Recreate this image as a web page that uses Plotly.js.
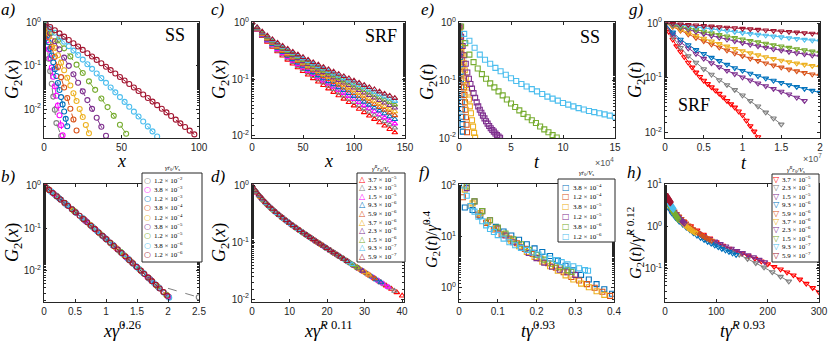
<!DOCTYPE html>
<html>
<head>
<meta charset="utf-8">
<script src="https://cdn.plot.ly/plotly-3.0.1.min.js"></script>
<style>
  body { margin: 0; background: #fff; }
  #chart { width: 831px; height: 342px; }
</style>
</head>
<body>
<div id="chart"></div>
<script>
// ---------------- data ----------------

// SS: shear rates (legend of b/e/f) and G2(x) profiles of panel a
var ssRates = [1.2e-2, 3.8e-3, 1.2e-3, 3.8e-4, 1.2e-4, 3.8e-5, 1.2e-5, 3.8e-6, 1.2e-6];

var aXGray = [1, 2, 3, 4, 5, 6, 7, 8, 11.1];
var aGGray = [0.534, 0.282, 0.147, 0.0758, 0.0386, 0.0195, 0.0097, 0.00476, 0.0024];
var aXMagenta = [1, 2, 3, 4, 5, 6, 7, 8, 9, 10, 11, 12];
var aGMagenta = [0.629, 0.393, 0.243, 0.150, 0.0919, 0.0561, 0.0339, 0.0204, 0.0122, 0.00721, 0.00425, 0.00249];
var aXBlue = [1, 2, 3, 4, 5, 6, 7, 8, 9, 10, 11, 12, 13, 14, 15];
var aGBlue = [0.710, 0.502, 0.354, 0.248, 0.174, 0.121, 0.0842, 0.0583, 0.0402, 0.0277, 0.0190, 0.0129, 0.0088, 0.00597, 0.00403];
var aXOrange = [1, 3, 5, 7, 9, 11, 13, 15, 17, 19, 21];
var aGOrange = [0.776, 0.464, 0.275, 0.162, 0.0948, 0.0550, 0.0316, 0.0181, 0.0102, 0.00575, 0.00321];
var aXYellow = [1, 3, 5, 7, 9, 11, 13, 15, 17, 19, 21, 23, 25, 27, 29];
var aGYellow = [0.829, 0.567, 0.386, 0.262, 0.177, 0.119, 0.0797, 0.0532, 0.0353, 0.0234, 0.0154, 0.0101, 0.00659, 0.00429, 0.00277];
var aXPurple = [1, 4, 7, 10, 13, 16, 19, 22, 25, 28, 31, 34, 37, 40];
var aGPurple = [0.870, 0.571, 0.373, 0.242, 0.156, 0.1004, 0.0642, 0.0408, 0.0258, 0.0162, 0.01017, 0.00633, 0.00392, 0.00242];
var aXGreen = [1, 5, 9, 13, 17, 21, 25, 29, 33, 37, 41, 45, 49, 53];
var aGGreen = [0.902, 0.595, 0.390, 0.255, 0.166, 0.107, 0.0688, 0.0440, 0.0280, 0.0177, 0.01117, 0.00700, 0.00436, 0.00271];
var aXCyan = [1, 4, 7, 10, 13, 16, 19, 22, 25, 28, 31, 34, 37, 40, 43, 46, 49, 52, 55, 58, 61, 64, 67, 70, 73];
var aGCyan = [0.926, 0.735, 0.583, 0.461, 0.364, 0.287, 0.226, 0.178, 0.140, 0.1094, 0.0856, 0.0669, 0.0522, 0.0406, 0.0316, 0.0245, 0.0190, 0.01472, 0.01137, 0.00877, 0.00675, 0.00519, 0.00399, 0.00306, 0.00234];
var aXDarkRed = [1, 4, 7, 10, 13, 16, 19, 22, 25, 28, 31, 34, 37, 40, 43, 46, 49, 52, 55, 58, 61, 64, 67, 70, 73, 76, 79, 82, 85, 88, 91, 94, 97];
var aGDarkRed = [0.945, 0.797, 0.671, 0.565, 0.475, 0.399, 0.335, 0.281, 0.235, 0.197, 0.165, 0.1378, 0.1151, 0.0960, 0.0800, 0.0667, 0.0555, 0.0461, 0.0383, 0.0318, 0.0264, 0.0219, 0.0181, 0.01496, 0.01237, 0.01021, 0.00842, 0.00694, 0.00572, 0.00470, 0.00387, 0.00318, 0.00261];

// SRF: rates (legend of d/h) and G2(x) of panel c
var srfRates = [3.7e-5, 2.3e-5, 1.5e-5, 9.3e-6, 5.9e-6, 3.7e-6, 2.3e-6, 1.5e-6, 9.3e-7, 5.9e-7];
var cX = [0, 5, 10, 15, 20, 25, 30, 35, 40, 45, 50, 55, 60, 65, 70, 75, 80, 85, 90, 95, 100, 105, 110, 115, 120, 125, 130, 135, 140];
var cGRed = [1, 0.743, 0.575, 0.458, 0.373, 0.3095, 0.260, 0.2203, 0.188, 0.1614, 0.139, 0.1202, 0.1041, 0.0904, 0.0786, 0.0684, 0.0595, 0.0518, 0.0451, 0.0393, 0.0343, 0.0299, 0.0261, 0.0227, 0.0198, 0.0173, 0.0151, 0.01316, 0.01149];
var cGGray = [1, 0.754, 0.589, 0.4735, 0.389, 0.324, 0.274, 0.2333, 0.200, 0.1729, 0.150, 0.1303, 0.1136, 0.0992, 0.0868, 0.0760, 0.0666, 0.0583, 0.0512, 0.0449, 0.0394, 0.0346, 0.0304, 0.0267, 0.0234, 0.0206, 0.0181, 0.01588, 0.01394];
var cGMagenta = [1, 0.763, 0.602, 0.4875, 0.403, 0.3376, 0.287, 0.2455, 0.212, 0.1837, 0.160, 0.1399, 0.1226, 0.1076, 0.0946, 0.0833, 0.0734, 0.0647, 0.0571, 0.0504, 0.0445, 0.0393, 0.0347, 0.0306, 0.0271, 0.0239, 0.0211, 0.0187, 0.0165];
var cGBlue = [1, 0.773, 0.616, 0.5027, 0.418, 0.3527, 0.301, 0.2593, 0.225, 0.196, 0.1717, 0.1509, 0.1328, 0.1173, 0.1037, 0.0918, 0.0814, 0.0722, 0.0640, 0.0568, 0.0505, 0.0449, 0.0399, 0.0354, 0.0315, 0.0280, 0.0249, 0.0221, 0.0197];
var cGOrange = [1, 0.782, 0.629, 0.517, 0.433, 0.367, 0.315, 0.2725, 0.2375, 0.208, 0.1831, 0.1616, 0.1431, 0.127, 0.1129, 0.1004, 0.0894, 0.0797, 0.0712, 0.0635, 0.0567, 0.0507, 0.0453, 0.0405, 0.0362, 0.0323, 0.0289, 0.0258, 0.0231];
var cGYellow = [1, 0.791, 0.642, 0.5316, 0.448, 0.3823, 0.330, 0.2866, 0.2508, 0.2208, 0.1951, 0.173, 0.1539, 0.1372, 0.1225, 0.1096, 0.0981, 0.0879, 0.0788, 0.0707, 0.0635, 0.0571, 0.0512, 0.046, 0.0414, 0.0372, 0.0334, 0.0301, 0.0270];
var cGPurple = [1, 0.800, 0.655, 0.5468, 0.463, 0.3975, 0.3445, 0.3008, 0.2646, 0.2339, 0.2077, 0.185, 0.1653, 0.148, 0.1328, 0.1193, 0.1073, 0.0966, 0.0871, 0.0785, 0.0709, 0.064, 0.0578, 0.0522, 0.0472, 0.0426, 0.0385, 0.0348, 0.0315];
var cGGreen = [1, 0.808, 0.667, 0.560, 0.477, 0.4115, 0.358, 0.314, 0.2772, 0.246, 0.2193, 0.196, 0.1759, 0.1581, 0.1424, 0.1285, 0.1161, 0.105, 0.0949, 0.086, 0.0779, 0.0706, 0.0641, 0.0581, 0.0528, 0.0479, 0.0435, 0.0395, 0.0358];
var cGCyan = [1, 0.816, 0.680, 0.575, 0.493, 0.427, 0.373, 0.329, 0.2916, 0.2598, 0.2325, 0.2088, 0.1879, 0.1697, 0.1535, 0.139, 0.1261, 0.1146, 0.1041, 0.0947, 0.0862, 0.0785, 0.0715, 0.0652, 0.0594, 0.0542, 0.0494, 0.0451, 0.0412];
var cGDarkRed = [1, 0.824, 0.691, 0.5885, 0.507, 0.4416, 0.388, 0.343, 0.305, 0.273, 0.2452, 0.221, 0.1998, 0.1809, 0.1642, 0.1493, 0.1360, 0.124, 0.1131, 0.1033, 0.0944, 0.0863, 0.0790, 0.0723, 0.0662, 0.0606, 0.0555, 0.0509, 0.0466];

// SS: G2(t) of panel e, t in units of 1e4
var eTBlue = [0.0125, 0.0375, 0.0625, 0.0875, 0.1125, 0.1375, 0.1625, 0.1875, 0.2125, 0.2375, 0.2625, 0.2875, 0.3125, 0.3375, 0.3625];
var eGBlue = [0.832, 0.631, 0.468, 0.347, 0.257, 0.191, 0.141, 0.1047, 0.0776, 0.0575, 0.0427, 0.0316, 0.0234, 0.0174, 0.0129];
var eTOrange = [0.025, 0.075, 0.125, 0.175, 0.225, 0.275, 0.325, 0.375, 0.425, 0.475, 0.525, 0.575, 0.625, 0.675, 0.725, 0.775];
var eGOrange = [0.832, 0.631, 0.490, 0.380, 0.295, 0.229, 0.174, 0.132, 0.100, 0.0759, 0.0562, 0.0417, 0.0309, 0.0229, 0.0170, 0.0126];
var eTYellow = [0.05, 0.15, 0.25, 0.35, 0.45, 0.55, 0.65, 0.75, 0.85, 0.95, 1.05, 1.15, 1.25, 1.35, 1.45, 1.55];
var eGYellow = [0.794, 0.537, 0.380, 0.275, 0.204, 0.151, 0.112, 0.0832, 0.0617, 0.0468, 0.0355, 0.0269, 0.0204, 0.0158, 0.0123, 0.0102];
var eTPurple = [0.05, 0.2, 0.35, 0.5, 0.65, 0.8, 0.95, 1.1, 1.25, 1.4, 1.55, 1.7, 1.85, 2.0, 2.15, 2.3, 2.45, 2.6, 2.75, 2.9, 3.05, 3.2, 3.35, 3.5, 3.65, 3.8, 3.95];
var eGPurple = [0.871, 0.575, 0.398, 0.275, 0.195, 0.138, 0.1072, 0.0871, 0.0724, 0.0603, 0.0501, 0.0417, 0.0355, 0.0309, 0.0275, 0.0245, 0.0219, 0.0195, 0.0178, 0.0162, 0.0148, 0.0138, 0.0129, 0.0120, 0.0112, 0.0106, 0.0101];
var eTGreen = [0.2, 0.6, 1.0, 1.4, 1.8, 2.2, 2.6, 3.0, 3.4, 3.8, 4.2, 4.6, 5.0, 5.4, 5.8, 6.2, 6.6, 7.0, 7.4, 7.8, 8.2, 8.6, 9.0, 9.4];
var eGGreen = [0.871, 0.447, 0.282, 0.209, 0.162, 0.1288, 0.1072, 0.0891, 0.0759, 0.0646, 0.0550, 0.0468, 0.0398, 0.0347, 0.0302, 0.0263, 0.0229, 0.0204, 0.0182, 0.01585, 0.01413, 0.01259, 0.01122, 0.0102];
var eTCyan = [0.5, 1.0, 1.5, 2.0, 2.5, 3.0, 3.5, 4.0, 4.5, 5.0, 5.5, 6.0, 6.5, 7.0, 7.5, 8.0, 8.5, 9.0, 9.5, 10.0, 10.5, 11.0, 11.5, 12.0, 12.5, 13.0, 13.5, 14.0, 14.5, 15.0];
var eGCyan = [0.646, 0.490, 0.372, 0.282, 0.229, 0.195, 0.166, 0.1445, 0.126, 0.1096, 0.0977, 0.0871, 0.0785, 0.0708, 0.0646, 0.0582, 0.0525, 0.0484, 0.0447, 0.0407, 0.0380, 0.0355, 0.0331, 0.0313, 0.0295, 0.0282, 0.0269, 0.0257, 0.0245, 0.0234];

// SS collapse of panel f
var fXBlue = [0.015, 0.035, 0.055, 0.075, 0.095, 0.115, 0.135, 0.155, 0.175, 0.195, 0.215, 0.235, 0.255, 0.275, 0.295, 0.315, 0.335, 0.355, 0.375, 0.395];
var fYBlue = [37.2, 33.1, 25.7, 19.5, 15.5, 12.6, 10.5, 8.71, 7.08, 5.89, 5.01, 4.17, 3.39, 2.69, 2.19, 1.78, 1.445, 1.175, 0.933, 0.759];
var fXOrange = [0.01, 0.03, 0.05, 0.07, 0.09, 0.11, 0.13, 0.15, 0.17, 0.19, 0.21, 0.23, 0.25, 0.27, 0.29, 0.31, 0.33, 0.35, 0.37, 0.39];
var fYOrange = [58.9, 39.8, 26.9, 18.6, 13.8, 11.0, 9.12, 7.41, 5.75, 4.57, 3.72, 3.02, 2.45, 2.0, 1.62, 1.38, 1.175, 1.0, 0.832, 0.692];
var fXYellow = [0.015, 0.035, 0.055, 0.075, 0.095, 0.115, 0.135, 0.155, 0.175, 0.195, 0.215, 0.235, 0.255, 0.275, 0.295, 0.315, 0.335, 0.355, 0.375];
var fYYellow = [83.2, 44.7, 28.8, 19.5, 14.5, 11.0, 8.32, 6.46, 5.01, 3.98, 3.24, 2.63, 2.14, 1.74, 1.445, 1.20, 1.02, 0.851, 0.724];
var fXPurple = [0.02, 0.04, 0.06, 0.08, 0.10, 0.12, 0.14, 0.16, 0.18, 0.20, 0.22, 0.24, 0.26, 0.28, 0.30];
var fYPurple = [89.1, 49.0, 31.6, 20.9, 14.5, 10.5, 7.76, 6.17, 4.79, 3.80, 3.09, 2.57, 2.24, 2.0, 1.78];
var fXGreen = [0.02, 0.04, 0.06, 0.08, 0.10, 0.12, 0.14, 0.16, 0.18, 0.20, 0.22, 0.24, 0.26, 0.28, 0.29];
var fYGreen = [95.5, 49.0, 31.6, 20.9, 15.1, 11.5, 8.91, 7.08, 5.50, 4.37, 3.55, 2.95, 2.51, 2.19, 2.04];
var fXCyan = [0.013, 0.02, 0.03, 0.04, 0.05, 0.06, 0.07, 0.08, 0.09, 0.10, 0.115, 0.13, 0.145, 0.16, 0.175, 0.19, 0.205, 0.22, 0.235, 0.25, 0.265, 0.28, 0.295, 0.31, 0.325, 0.333];
var fYCyan = [100, 63.1, 39.8, 30.9, 24.5, 19.95, 16.6, 14.1, 12.3, 10.7, 9.12, 7.76, 6.76, 6.03, 5.50, 4.90, 4.47, 4.07, 3.72, 3.47, 3.16, 2.88, 2.63, 2.40, 2.21, 2.14];

// SRF: G2(t) of panel g, t in units of 1e7
var gT = [0, 0.1, 0.2, 0.3, 0.4, 0.5, 0.6, 0.7, 0.8, 0.9, 1.0, 1.1, 1.2, 1.3, 1.4, 1.5, 1.6, 1.7, 1.8, 1.9, 2.0];
var gTRed = [0, 0.05, 0.1, 0.15, 0.2, 0.25, 0.3, 0.35, 0.4, 0.45, 0.5, 0.55, 0.6, 0.65, 0.7, 0.75, 0.8, 0.85, 0.9, 0.95, 1.0, 1.05, 1.1, 1.15, 1.2];
var gGRed = [1, 0.692, 0.501, 0.380, 0.302, 0.240, 0.1905, 0.155, 0.1259, 0.1047, 0.0891, 0.0776, 0.0676, 0.0589, 0.0513, 0.0442, 0.0380, 0.0331, 0.0288, 0.0245, 0.0209, 0.0166, 0.0132, 0.0105, 0.0083];
var gGGray = [1, 0.562, 0.355, 0.251, 0.1905, 0.1445, 0.1148, 0.0912, 0.0741, 0.0603, 0.0479, 0.0380, 0.0302, 0.0234, 0.0182, 0.0141];
var gGPurpleHigh = [1, 0.631, 0.447, 0.347, 0.275, 0.224, 0.186, 0.158, 0.135, 0.1175, 0.1023, 0.0902, 0.0794, 0.0708, 0.0631, 0.0562, 0.0501, 0.0437, 0.0380];
var gGBlue = [1, 0.676, 0.501, 0.398, 0.324, 0.275, 0.234, 0.204, 0.174, 0.151, 0.135, 0.120, 0.108, 0.0977, 0.0891, 0.0813, 0.0741, 0.0684, 0.0631, 0.0582, 0.0537];
var gGOrange = [1, 0.850, 0.726, 0.623, 0.538, 0.468, 0.409, 0.359, 0.317, 0.281, 0.251, 0.2255, 0.2036, 0.1848, 0.1687, 0.1549, 0.1429, 0.1327, 0.1238, 0.1162, 0.1096];
var gGYellow = [1, 0.869, 0.759, 0.667, 0.588, 0.522, 0.465, 0.417, 0.375, 0.340, 0.309, 0.283, 0.260, 0.240, 0.2227, 0.2077, 0.1949, 0.1836, 0.1739, 0.1656, 0.1585];
var gGPurpleLow = [1, 0.909, 0.829, 0.757, 0.694, 0.637, 0.587, 0.542, 0.502, 0.467, 0.435, 0.406, 0.380, 0.356, 0.3355, 0.3166, 0.2996, 0.2842, 0.2703, 0.2579, 0.2466];
var gGGreen = [1, 0.929, 0.865, 0.806, 0.752, 0.702, 0.656, 0.614, 0.575, 0.540, 0.507, 0.477, 0.449, 0.423, 0.399, 0.377, 0.356, 0.337, 0.320, 0.304, 0.288];
var gGCyan = [1, 0.957, 0.917, 0.879, 0.843, 0.809, 0.777, 0.747, 0.718, 0.690, 0.664, 0.640, 0.617, 0.594, 0.573, 0.553, 0.535, 0.517, 0.499, 0.483, 0.468];
var gGDarkRed = [1, 0.977, 0.955, 0.933, 0.912, 0.891, 0.871, 0.851, 0.832, 0.813, 0.794, 0.776, 0.759, 0.741, 0.724, 0.708, 0.692, 0.676, 0.661, 0.646, 0.631];

// unit factors of the rescaled axes (b, d, h)
var unitB = 0.71;
var unitD = 0.878;
var unitH = 0.331;

// ---------------- styling ----------------
var cGray = '#808080', cMag = '#FF00FF', cBlue = '#0072BD', cOrange = '#D95319',
    cYellow = '#EDB120', cPurple = '#7E2F8E', cGreen = '#77AC30', cCyan = '#4DBEEE',
    cDark = '#A2142F', cRed = '#FF0000';
var ssColors = [cGray, cMag, cBlue, cOrange, cYellow, cPurple, cGreen, cCyan, cDark];
var srfColorsC = [cRed, cGray, cMag, cBlue, cOrange, cYellow, cPurple, cGreen, cCyan, cDark];
var srfColorsG = [cRed, cGray, cPurple, cBlue, cOrange, cYellow, cPurple, cGreen, cCyan, cDark];
var ssTimeColors = [cBlue, cOrange, cYellow, cPurple, cGreen, cCyan];
var ssTimeRates = ssRates.slice(3);

var W = 831, H = 342;
function px(x) { return x / W; }
function py(y) { return 1 - y / H; }

var data = [];
function addTrace(n, xs, ys, color, symbol, mode, dash) {
  var s = n > 1 ? String(n) : '';
  data.push({
    type: 'scatter', x: xs, y: ys, xaxis: 'x' + s, yaxis: 'y' + s,
    mode: mode, showlegend: false, hoverinfo: 'skip',
    marker: {symbol: symbol, size: 5, color: color, line: {width: 1.1, color: color}},
    line: {color: color, width: 1, dash: dash || 'solid'}
  });
}

// panel a and its collapse b
var aXs = [aXGray, aXMagenta, aXBlue, aXOrange, aXYellow, aXPurple, aXGreen, aXCyan, aXDarkRed];
var aGs = [aGGray, aGMagenta, aGBlue, aGOrange, aGYellow, aGPurple, aGGreen, aGCyan, aGDarkRed];
aXs.forEach(function (xs, i) {
  addTrace(1, xs, aGs[i], ssColors[i], 'circle-open', 'lines+markers', 'dash');
});
aXs.forEach(function (xs, i) {
  var k = unitB * Math.pow(ssRates[i], 0.26);
  addTrace(5, xs.map(function (v) { return v * k; }), aGs[i], ssColors[i], 'circle-open', 'lines+markers', 'dash');
});

// panel c and its collapse d
var cGs = [cGRed, cGGray, cGMagenta, cGBlue, cGOrange, cGYellow, cGPurple, cGGreen, cGCyan, cGDarkRed];
cGs.forEach(function (gs, i) {
  addTrace(2, cX, gs, srfColorsC[i], 'triangle-up-open', 'markers');
});
cGs.forEach(function (gs, i) {
  var k = unitD * Math.pow(srfRates[i], 0.11);
  addTrace(6, cX.map(function (v) { return v * k; }), gs, srfColorsC[i], 'triangle-up-open', 'markers');
});

// panel e
var eTs = [eTBlue, eTOrange, eTYellow, eTPurple, eTGreen, eTCyan];
var eGs = [eGBlue, eGOrange, eGYellow, eGPurple, eGGreen, eGCyan];
eTs.forEach(function (ts, i) {
  addTrace(3, ts, eGs[i], ssTimeColors[i], 'square-open', 'markers');
});

// panel f
var fXs = [fXBlue, fXOrange, fXYellow, fXPurple, fXGreen, fXCyan];
var fYs = [fYBlue, fYOrange, fYYellow, fYPurple, fYGreen, fYCyan];
fXs.forEach(function (xs, i) {
  addTrace(7, xs, fYs[i], ssTimeColors[i], 'square-open', 'markers');
});

// panel g and its collapse h
var gTs = [gTRed, gT.slice(0, gGGray.length), gT.slice(0, gGPurpleHigh.length), gT, gT, gT, gT, gT, gT, gT];
var gGs = [gGRed, gGGray, gGPurpleHigh, gGBlue, gGOrange, gGYellow, gGPurpleLow, gGGreen, gGCyan, gGDarkRed];
gGs.forEach(function (gs, i) {
  addTrace(4, gTs[i], gs, srfColorsG[i], 'triangle-down-open', 'lines+markers');
});
gGs.forEach(function (gs, i) {
  var kx = unitH * 1e7 * Math.pow(srfRates[i], 0.93);
  var ky = Math.pow(srfRates[i], 0.12);
  addTrace(8, gTs[i].map(function (v) { return v * kx; }),
           gs.map(function (v) { return v / ky; }), srfColorsG[i], 'triangle-down-open', 'lines+markers');
});

// ---------------- axes ----------------
var tickFont = {family: 'Liberation Sans, Arial, sans-serif', size: 10, color: '#262626'};
function axis(extra) {
  var a = {showline: true, mirror: 'ticks', linecolor: '#262626', linewidth: 1,
           ticks: 'inside', ticklen: 3, tickcolor: '#262626', showgrid: false,
           zeroline: false, tickfont: tickFont, fixedrange: true};
  for (var key in extra) a[key] = extra[key];
  return a;
}
function powLabel(p) { return '10<sup>' + p + '</sup>'; }
function logAxis(range, exps, anchor, dom) {
  return axis({type: 'log', range: range, anchor: anchor, domain: dom,
               tickvals: exps.map(function (p) { return Math.pow(10, p); }),
               ticktext: exps.map(powLabel),
               minor: {ticks: 'inside', ticklen: 2, tickcolor: '#262626'}});
}

var topY = [py(138), py(22)];
var botY = [py(302), py(184)];
var colA = [px(44), px(199)], colC = [px(252), px(405)], colE = [px(459), px(615)], colG = [px(665), px(820)];
var colB = [px(44), px(199)], colD = [px(252), px(404)], colF = [px(459), px(614)], colH = [px(665), px(819)];

var layout = {
  width: W, height: H, margin: {l: 0, r: 0, t: 0, b: 0},
  paper_bgcolor: '#ffffff', plot_bgcolor: '#ffffff', showlegend: false,
  xaxis: axis({range: [0, 100], dtick: 50, domain: colA, anchor: 'y'}),
  yaxis: logAxis([-2.667, 0.016], [0, -1, -2], 'x', topY),
  xaxis2: axis({range: [0, 150], dtick: 50, domain: colC, anchor: 'y2'}),
  yaxis2: logAxis([-2.036, 0.012], [0, -1, -2], 'x2', topY),
  xaxis3: axis({range: [0, 15], tickvals: [0, 5, 10, 15], domain: colE, anchor: 'y3'}),
  yaxis3: logAxis([-2.0, 0.017], [0, -1, -2], 'x3', topY),
  xaxis4: axis({range: [0, 2], dtick: 0.5, domain: colG, anchor: 'y4'}),
  yaxis4: logAxis([-2.1, 0.02], [0, -1, -2], 'x4', topY),
  xaxis5: axis({range: [0, 2.5], dtick: 0.5, domain: colB, anchor: 'y5'}),
  yaxis5: logAxis([-2.73, 0.04], [0, -1, -2], 'x5', botY),
  xaxis6: axis({range: [0, 40.5], dtick: 10, domain: colD, anchor: 'y6'}),
  yaxis6: logAxis([-2.05, 0.03], [0, -1, -2], 'x6', botY),
  xaxis7: axis({range: [0, 0.4], dtick: 0.1, domain: colF, anchor: 'y7'}),
  yaxis7: logAxis([-0.28, 2.03], [2, 1, 0], 'x7', botY),
  xaxis8: axis({range: [0, 300], dtick: 100, domain: colH, anchor: 'y8'}),
  yaxis8: logAxis([-1.78, 1.0], [1, 0, -1], 'x8', botY),
  shapes: [],
  annotations: []
};

// ---------------- text ----------------
var serif = 'Liberation Serif, Times New Roman, serif';
function note(x, y, text, size, opts) {
  var a = {xref: 'paper', yref: 'paper', x: px(x), y: py(y), text: text, showarrow: false,
           font: {family: serif, size: size, color: '#000'}, xanchor: 'center', yanchor: 'middle'};
  for (var key in opts) a[key] = opts[key];
  layout.annotations.push(a);
}

// panel letters
[['a)', 8, 10], ['c)', 218, 10], ['e)', 428, 10], ['g)', 636, 10],
 ['b)', 8, 176], ['d)', 218, 176], ['f)', 424, 172], ['h)', 634, 172]].forEach(function (p) {
  note(p[1], p[2], '<i>' + p[0] + '</i>', 17);
});

// model tags
note(175, 35, 'SS', 18);
note(381, 36, 'SRF', 18);
note(590, 37, 'SS', 18);
note(694, 105, 'SRF', 18);

// axis titles
var g2x = '<i>G</i><sub>2</sub>(<i>x</i>)', g2t = '<i>G</i><sub>2</sub>(<i>t</i>)';
note(122, 161, '<i>x</i>', 18);
note(328, 161, '<i>x</i>', 18);
note(537, 162, '<i>t</i>', 18);
note(744, 163, '<i>t</i>', 18);
note(122, 329, '<i>x</i><i>γ̇</i><sup>0.26</sup>', 18);
note(328, 329, '<i>x</i><i>γ̇</i><sup><i>R</i> 0.11</sup>', 18);
note(538, 329, '<i>t</i><i>γ̇</i><sup>0.93</sup>', 18);
note(742, 329, '<i>t</i><i>γ̇</i><sup><i>R</i> 0.93</sup>', 18);
note(13, 80, g2x, 18, {textangle: -90});
note(220, 80, g2x, 18, {textangle: -90});
note(429, 82, g2t, 18, {textangle: -90});
note(636, 80, g2t, 18, {textangle: -90});
note(13, 243, g2x, 18, {textangle: -90});
note(220, 243, g2x, 18, {textangle: -90});
note(431, 240, g2t + '/<i>γ̇</i><sup>0.4</sup>', 16, {textangle: -90});
note(635, 243, g2t + '/<i>γ̇</i><sup><i>R</i> 0.12</sup>', 16, {textangle: -90});

// exponent multipliers
note(604, 162, '×10<sup>4</sup>', 9, {font: {family: 'Liberation Sans, Arial', size: 9, color: '#555'}});
note(812, 158, '×10<sup>7</sup>', 9, {font: {family: 'Liberation Sans, Arial', size: 9, color: '#555'}});

// ---------------- legends ----------------
function sciLabel(v) {
  var e = Math.floor(Math.log10(v) + 1e-9);
  var m = v / Math.pow(10, e);
  return m.toFixed(1) + ' × 10<sup>−' + (-e) + '</sup>';
}
function legend(box, title, titleY, firstY, step, glyphX, textX, glyph, colors, rates) {
  layout.shapes.push({type: 'rect', xref: 'paper', yref: 'paper', layer: 'above',
    x0: px(box[0]), x1: px(box[1]), y0: py(box[3]), y1: py(box[2]),
    line: {color: '#262626', width: 1}, fillcolor: '#ffffff'});
  note((box[0] + box[1]) / 2, titleY, title, 6.5);
  rates.forEach(function (r, i) {
    var y = firstY + i * step;
    note(glyphX, y, glyph, 8, {font: {family: 'DejaVu Sans', size: 8, color: colors[i]}});
    note(textX, y, sciLabel(r), 7, {xanchor: 'left'});
  });
}
var ssTitle = '<i>γ̇r</i><sub>0</sub>/<i>V</i><sub>s</sub>';
var srfTitle = '<i>γ̇</i><sup><i>R</i></sup><i>r</i><sub>0</sub>/<i>V</i><sub>s</sub>';
legend([142, 202, 173, 262], ssTitle, 168, 180, 9.3, 147, 152, '○', ssColors, ssRates);
legend([357, 405, 173, 262], srfTitle, 168, 179, 8.6, 362, 366, '△', srfColorsC, srfRates);
legend([558, 615, 179, 242], ssTitle, 173, 187, 9.8, 566, 571, '□', ssTimeColors, ssTimeRates);
legend([772, 819, 174, 262], srfTitle, 169, 179.5, 8.4, 776, 780, '▽', srfColorsG, srfRates);

Plotly.newPlot('chart', data, layout, {staticPlot: true, displayModeBar: false});
</script>
</body>
</html>
